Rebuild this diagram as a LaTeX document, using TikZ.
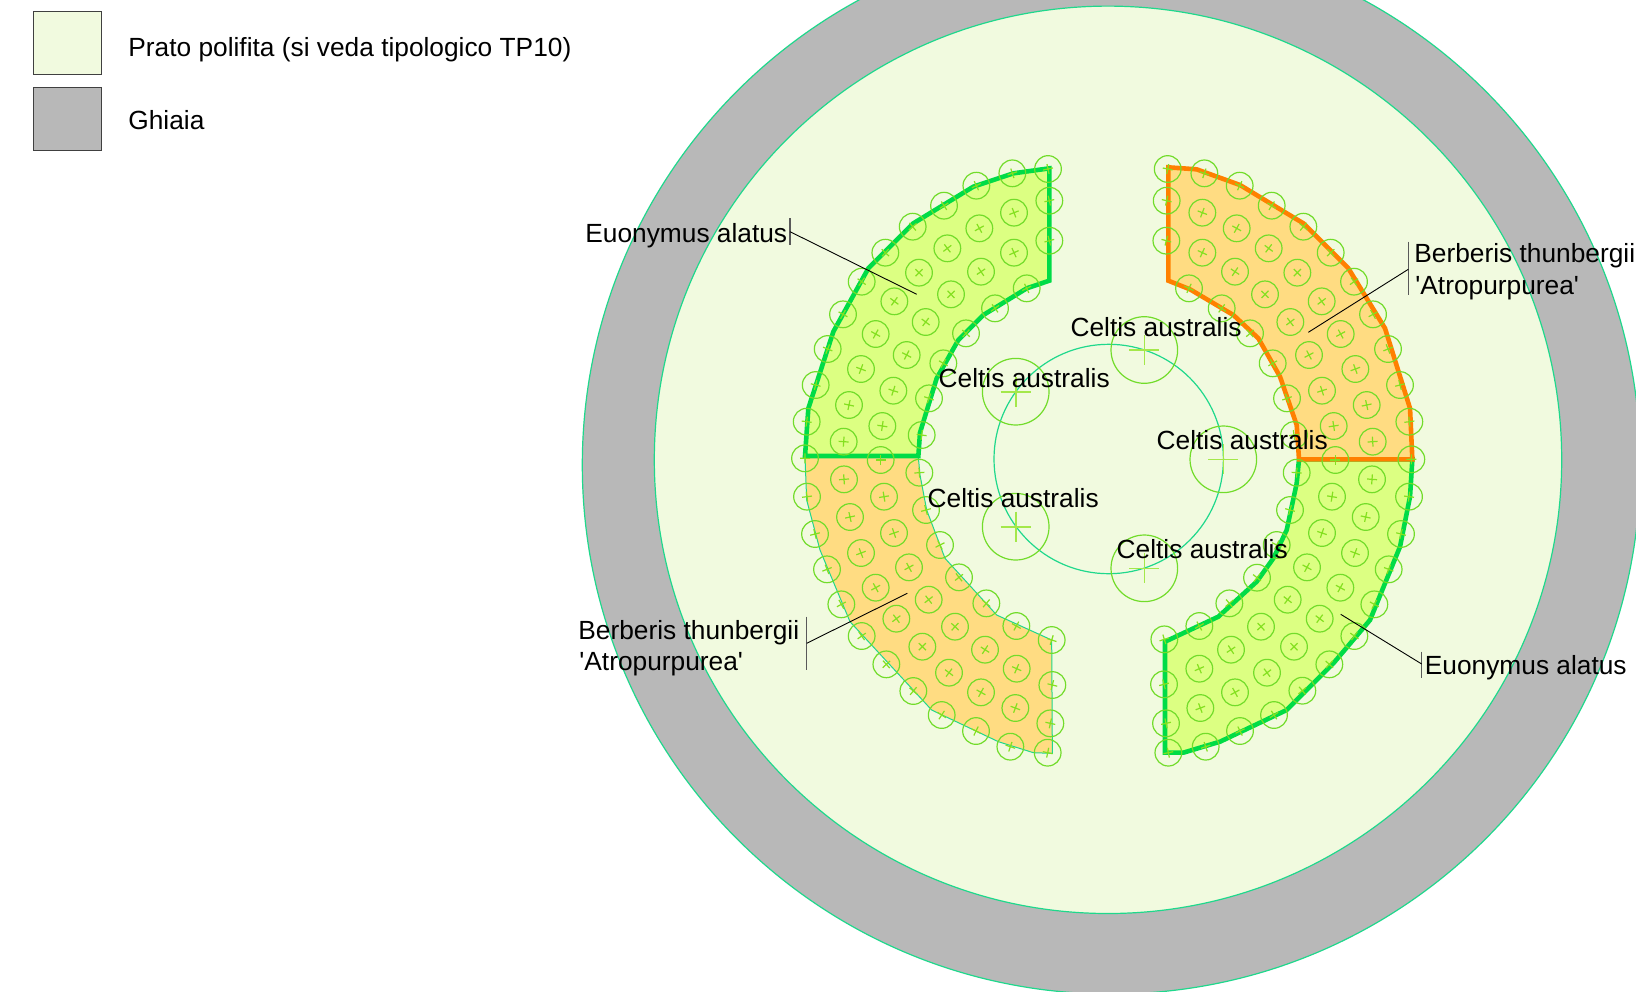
\documentclass[tikz,border=0pt]{standalone}
\usepackage{fontspec}
\newfontfamily\labelfont{Liberation Sans}
\definecolor{prato}{HTML}{F1FADF}
\definecolor{ghiaia}{HTML}{B8B8B8}
\definecolor{teal}{HTML}{1FD88C}
\definecolor{boldgreen}{HTML}{00DC46}
\definecolor{boldorange}{HTML}{FF8000}
\definecolor{fillgreen}{HTML}{DCFF82}
\definecolor{fillorange}{HTML}{FFDC82}
\definecolor{shrubcol}{HTML}{72DC2A}
\definecolor{crosscol}{HTML}{84E020}
\definecolor{treecross}{HTML}{A4E84A}
\tikzset{
  label text/.style={font=\labelfont\fontsize{13.15pt}{15pt}\selectfont,anchor=base west,inner sep=0pt,text=black},
  legend box/.style={draw=black!75,line width=0.5pt},
  thin outline/.style={draw=teal,line width=0.6pt},
  greenarea/.style={fill=fillgreen,draw=boldgreen,line width=2.3pt,line join=miter},
  orangearea/.style={fill=fillorange,draw=boldorange,line width=2.3pt,line join=miter},
  orangethin/.style={fill=fillorange,draw=teal,line width=0.5pt},
  shrubcircle/.style={draw=shrubcol,line width=0.6pt},
  shrubcross/.style={draw=crosscol,line width=0.6pt},
  treecircle/.style={draw=shrubcol,line width=0.6pt},
  treecrossline/.style={draw=treecross,line width=0.8pt},
  leader/.style={draw=black,line width=0.45pt},
  tick/.style={draw=black!65,line width=0.65pt},
  zoomed/.style={x=0.166667pt,y=-0.166667pt},
}
\newcommand{\shrubset}[3]{%
  \begin{scope}[shift={(#1,#2)},zoomed]
  \foreach \X/\Y in {#3}{%
    \pgfmathsetmacro{\ang}{atan2(\Y/3+#2-460,\X/3+#1-1108)}
    \draw[shrubcircle] (\X,\Y) circle[radius=40];
    \draw[shrubcross,shift={(\X,\Y)},rotate=-\ang] (-15,0)--(15,0) (0,-15)--(0,15);
  }
  \end{scope}}
\begin{document}
\begin{tikzpicture}[x=0.5pt,y=-0.5pt]
\useasboundingbox (0,0) rectangle (1636,991);
\clip (0,0) rectangle (1636,991);
\fill[white] (0,0) rectangle (1636,991);
% legend
\draw[legend box,fill=prato] (33.4,11.7) rectangle (101,74);
\draw[legend box,fill=ghiaia] (33.4,87.7) rectangle (101,150.7);
\node[label text] (legA) at (128,56.5) {Prato polifita (si veda tipologico TP10)};
\node[label text] (legB) at (128,129.5) {Ghiaia};
% circles
\draw[thin outline,fill=ghiaia] (1111.3,465) circle[radius=529];
\draw[thin outline,fill=prato] (1108,459.8) circle[radius=453.7];
\draw[thin outline] (1108.7,459) circle[radius=114.7];
% areas
\begin{scope}[shift={(780,440)},zoomed]
\draw[orangethin] (75,52)--(415,52)--(420,105)--(440,210)--(495,355)--(650,525)--(815,600)--(817,940)--(760,938)--(655,905)--(455,810)--(210,545)--(120,330)--(80,180)--cycle;
\end{scope}
\begin{scope}[shift={(780,140)},zoomed]
\draw[greenarea] (75,948)--(85,805)--(160,575)--(265,385)--(400,250)--(580,140)--(700,100)--(808,85)--(808,422)--(740,445)--(610,525)--(535,600)--(470,715)--(420,878)--(415,948)--cycle;
\end{scope}
\begin{scope}[shift={(1140,440)},zoomed]
\draw[greenarea] (817,58)--(810,170)--(780,320)--(690,540)--(580,670)--(440,810)--(240,905)--(130,938)--(75,938)--(75,605)--(235,530)--(350,425)--(400,355)--(440,270)--(470,130)--(477,58)--cycle;
\end{scope}
\begin{scope}[shift={(1140,140)},zoomed]
\draw[orangearea] (85,82)--(170,88)--(300,135)--(490,250)--(625,385)--(735,565)--(810,805)--(817,958)--(477,958)--(470,855)--(420,710)--(355,595)--(280,525)--(150,448)--(85,422)--cycle;
\end{scope}
% shrubs
\shrubset{780}{140}{804/87,808/182,808/302,697/100,589/137,492/197,398/260,316/338,245/425,189/523,143/627,107/735,80/845,75/955,302/960,425/885,447/775,490/670,558/580,645/505,740/445,702/218,598/265,702/338,502/325,603/395,417/398,513/463,343/484,437/546,287/582,380/645,243/687,340/752,207/795,307/858,191/905}
\shrubset{1140}{140}{83/87,193/100,299/137,395/197,490/260,572/338,642/425,699/523,744/627,780/735,808/845,462/885,441/775,398/670,330/580,245/505,147/445,80/182,79/302,187/218,290/265,187/338,386/325,285/395,472/398,375/463,545/484,451/546,602/582,507/645,646/687,546/752,680/795,581/858,698/905}
\shrubset{780}{440}{418/98,81/170,105/282,141/388,184/493,245/588,319/673,400/753,485/825,588/873,691/920,803/938,811/850,817/735,815/600,709/558,619/490,537/412,480/315,438/210,192/118,312/170,210/231,342/279,243/339,387/382,287/443,446/479,349/536,525/560,427/620,615/629,507/698,710/686,603/757,706/804}
\shrubset{1140}{440}{814/58,586/60,470/98,450/210,410/315,351/413,268/490,178/558,73/598,72/733,78/850,85/938,197/920,300/873,402/825,487/752,568/673,643/588,703/493,746/388,783/282,807/170,696/118,576/170,677/231,546/279,645/339,501/382,601/443,443/479,539/536,363/560,462/620,273/629,381/698,178/686,285/757,181/804}
% trees
\foreach \tx/\ty in {1144.3/350,1015.7/391.7,1223.3/459.3,1015.7/526.7,1144.3/568.3}{
  \draw[treecircle] (\tx,\ty) circle[radius=33.3];
  \draw[treecrossline,shift={(\tx,\ty)}] (-15,0)--(15,0) (0,-15)--(0,15);
}
% leaders
\coordinate (tickAa) at (790,218);
\coordinate (tickAb) at (790,245);
\coordinate (leadAa) at (790,231.7);
\coordinate (leadAb) at (916.7,294.3);
\draw[tick] (tickAa)--(tickAb);
\draw[leader] (leadAa)--(leadAb);
\coordinate (tickBa) at (1408.3,241.7);
\coordinate (tickBb) at (1408.3,295);
\coordinate (leadBa) at (1408.3,269.3);
\coordinate (leadBb) at (1308.3,332.3);
\draw[tick] (tickBa)--(tickBb);
\draw[leader] (leadBa)--(leadBb);
\coordinate (tickCa) at (806.7,616.7);
\coordinate (tickCb) at (806.7,670);
\coordinate (leadCa) at (806.7,643.3);
\coordinate (leadCb) at (907.3,593.3);
\draw[tick] (tickCa)--(tickCb);
\draw[leader] (leadCa)--(leadCb);
\coordinate (tickDa) at (1421.7,651.7);
\coordinate (tickDb) at (1421.7,678.3);
\coordinate (leadDa) at (1421.7,664);
\coordinate (leadDb) at (1340.7,614.3);
\draw[tick] (tickDa)--(tickDb);
\draw[leader] (leadDa)--(leadDb);
% labels
\node[label text] (euoA) at (585,242.7) {Euonymus alatus};
\node[label text] (euoB) at (1424.5,674.3) {Euonymus alatus};
\node[label text] (berA1) at (1414,262.7) {Berberis thunbergii};
\node[label text] (berA2) at (1415,294.3) {'Atropurpurea'};
\node[label text] (berB1) at (578,639) {Berberis thunbergii};
\node[label text] (berB2) at (579,670.6) {'Atropurpurea'};
\node[label text] (cel1) at (1070.2,336) {Celtis australis};
\node[label text] (cel2) at (938.3,387.7) {Celtis australis};
\node[label text] (cel3) at (1156.3,449.3) {Celtis australis};
\node[label text] (cel4) at (927.3,507) {Celtis australis};
\node[label text] (cel5) at (1116.3,558) {Celtis australis};
\end{tikzpicture}
\end{document}
